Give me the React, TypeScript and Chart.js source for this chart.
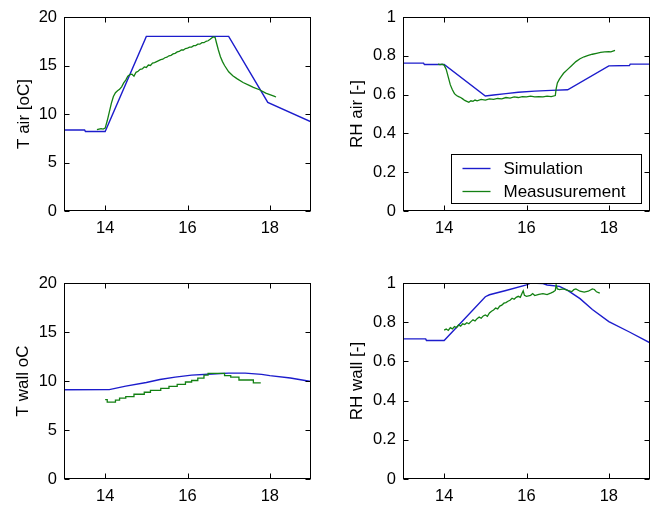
import React, { useEffect, useRef } from "react";
import { Chart, registerables } from "chart.js";
Chart.register(...registerables);

// ---------- data ----------
const X_TICKS = [14, 16, 18];
const T_TICKS = [0, 5, 10, 15, 20];
const RH_TICKS = [0, 0.2, 0.4, 0.6, 0.8, 1];
const LEGEND_LABELS = ["Simulation", "Measusurement"];

const tAirSim: [number, number][] = [
  [13, 8.35], [13.5, 8.35], [13.52, 8.2], [14.0, 8.2], [15.0, 18], [17.0, 18], [17.95, 11.2], [19, 9.2],
];
const tAirMeas: [number, number][] = [
  [13.8, 8.4], [13.85, 8.45], [13.9, 8.5], [13.95, 8.45], [14.0, 8.55], [14.05, 9.3], [14.1, 10.2],
  [14.15, 11.1], [14.2, 11.8], [14.25, 12.2], [14.3, 12.4], [14.35, 12.55], [14.4, 12.8], [14.45, 13.2],
  [14.5, 13.5], [14.55, 13.9], [14.6, 14.05], [14.65, 14.1], [14.7, 13.9], [14.75, 14.3], [14.8, 14.4],
  [14.85, 14.6], [14.9, 14.65], [14.95, 14.85], [15.0, 14.8], [15.05, 15.05], [15.1, 15.0], [15.15, 15.25],
  [15.2, 15.3], [15.25, 15.4], [15.3, 15.5], [15.35, 15.6], [15.4, 15.65], [15.45, 15.8], [15.5, 15.85],
  [15.55, 16.0], [15.6, 16.05], [15.65, 16.2], [15.7, 16.25], [15.75, 16.4], [15.8, 16.45], [15.85, 16.6],
  [15.9, 16.6], [15.95, 16.75], [16.0, 16.8], [16.05, 16.9], [16.1, 16.9], [16.15, 17.05], [16.2, 17.05],
  [16.25, 17.2], [16.3, 17.2], [16.35, 17.35], [16.4, 17.35], [16.45, 17.5], [16.5, 17.55], [16.55, 17.7],
  [16.62, 17.95], [16.67, 17.9], [16.7, 17.4], [16.75, 16.6], [16.8, 15.9], [16.85, 15.4], [16.9, 15.0],
  [17.0, 14.35], [17.1, 13.95], [17.2, 13.65], [17.35, 13.25], [17.5, 12.95], [17.6, 12.75], [17.75, 12.5],
  [17.9, 12.15], [18.0, 12.0], [18.1, 11.85], [18.15, 11.75],
];

const rhAirSim: [number, number][] = [
  [13, 0.762], [13.5, 0.762], [13.52, 0.755], [14, 0.755], [15, 0.593], [15.2, 0.598], [15.5, 0.605],
  [15.8, 0.612], [16.2, 0.618], [16.6, 0.622], [17, 0.625], [18, 0.748], [18.5, 0.75], [18.52, 0.757], [19, 0.757],
];
const rhAirMeas: [number, number][] = [
  [13.85, 0.757], [13.9, 0.755], [13.95, 0.757], [14.0, 0.752], [14.05, 0.73], [14.1, 0.69], [14.15, 0.65],
  [14.2, 0.625], [14.25, 0.605], [14.3, 0.595], [14.35, 0.59], [14.4, 0.585], [14.45, 0.578], [14.5, 0.57],
  [14.55, 0.565], [14.6, 0.56], [14.65, 0.568], [14.7, 0.565], [14.75, 0.572], [14.8, 0.568], [14.9, 0.575],
  [15.0, 0.572], [15.1, 0.578], [15.2, 0.575], [15.3, 0.58], [15.4, 0.578], [15.5, 0.585], [15.6, 0.582],
  [15.7, 0.588], [15.8, 0.585], [15.9, 0.59], [16.0, 0.588], [16.1, 0.592], [16.2, 0.588], [16.3, 0.59],
  [16.4, 0.588], [16.5, 0.592], [16.6, 0.59], [16.7, 0.595], [16.72, 0.63], [16.75, 0.66], [16.8, 0.68],
  [16.85, 0.695], [16.9, 0.71], [17.0, 0.73], [17.1, 0.75], [17.2, 0.77], [17.3, 0.785], [17.4, 0.795],
  [17.5, 0.802], [17.6, 0.808], [17.7, 0.813], [17.8, 0.818], [17.9, 0.82], [18.0, 0.822], [18.05, 0.82],
  [18.1, 0.824], [18.15, 0.828],
];

const tWallSim: [number, number][] = [
  [13, 9.1], [14.1, 9.12], [14.5, 9.48], [15, 9.85], [15.33, 10.15], [15.7, 10.4], [16.1, 10.6], [16.6, 10.72],
  [17, 10.8], [17.4, 10.8], [17.8, 10.68], [18, 10.55], [18.5, 10.3], [19, 9.95],
];
const tWallMeas: [number, number][] = [
  [14.0, 8.1], [14.05, 7.85], [14.25, 8.05], [14.35, 8.25], [14.5, 8.4], [14.7, 8.65], [14.95, 8.85],
  [15.1, 9.05], [15.35, 9.25], [15.55, 9.45], [15.75, 9.65], [15.95, 9.9], [16.1, 10.05], [16.25, 10.3],
  [16.4, 10.6], [16.5, 10.78], [16.9, 10.55], [17.05, 10.4], [17.25, 10.1], [17.6, 9.8], [17.78, 9.8],
];

const rhWallSim: [number, number][] = [
  [13, 0.715], [13.55, 0.715], [13.57, 0.707], [14, 0.707], [15, 0.93], [15.1, 0.94], [15.5, 0.962],
  [16, 0.99], [16.1, 1.0], [16.4, 0.997], [16.5, 0.99], [16.8, 0.983], [17, 0.962], [17.3, 0.92],
  [17.6, 0.865], [18, 0.803], [18.5, 0.75], [19, 0.695],
];
const rhWallMeas: [number, number][] = [
  [14.0, 0.76], [14.05, 0.765], [14.1, 0.758], [14.15, 0.772], [14.2, 0.766], [14.25, 0.778], [14.3, 0.772],
  [14.35, 0.786], [14.4, 0.78], [14.45, 0.792], [14.5, 0.788], [14.55, 0.797], [14.6, 0.792], [14.65, 0.803],
  [14.7, 0.812], [14.75, 0.806], [14.8, 0.818], [14.85, 0.826], [14.9, 0.82], [14.95, 0.832], [15.0, 0.837],
  [15.05, 0.83], [15.1, 0.847], [15.15, 0.856], [15.2, 0.862], [15.25, 0.872], [15.3, 0.868], [15.35, 0.882],
  [15.4, 0.887], [15.45, 0.897], [15.5, 0.9], [15.55, 0.907], [15.6, 0.912], [15.65, 0.922], [15.7, 0.917],
  [15.75, 0.927], [15.8, 0.932], [15.85, 0.927], [15.9, 0.952], [15.92, 0.96], [15.95, 0.937], [16.0, 0.932],
  [16.1, 0.937], [16.15, 0.946], [16.2, 0.936], [16.3, 0.942], [16.4, 0.946], [16.5, 0.941], [16.6, 0.95],
  [16.65, 0.955], [16.7, 0.962], [16.72, 0.99], [16.75, 0.97], [16.8, 0.966], [16.9, 0.97], [17.0, 0.962],
  [17.1, 0.956], [17.15, 0.966], [17.2, 0.97], [17.3, 0.958], [17.4, 0.954], [17.5, 0.958], [17.6, 0.97],
  [17.65, 0.967], [17.7, 0.955], [17.78, 0.948],
];

// ---------- layout / style ----------
const FONT = "'Liberation Sans', Arial, Helvetica, sans-serif";
const BLUE = "#1c1ccc";
const GREEN = "#138013";

type PanelDef = {
  x: number; y: number; w: number; h: number;
  area: { l: number; t: number; r: number; b: number };
  yMax: number; yTicks: number[]; title: string; titlePad: number;
  sim: [number, number][]; meas: [number, number][]; stepped?: boolean; legend?: boolean;
};

const PANELS: PanelDef[] = [
  { x: 0, y: 0, w: 327, h: 252, area: { l: 64, t: 17, r: 311, b: 211 }, yMax: 20, yTicks: T_TICKS,
    title: "T air [oC]", titlePad: 14, sim: tAirSim, meas: tAirMeas },
  { x: 327, y: 0, w: 327, h: 252, area: { l: 76, t: 17, r: 323, b: 211 }, yMax: 1, yTicks: RH_TICKS,
    title: "RH air [-]", titlePad: 20, sim: rhAirSim, meas: rhAirMeas, legend: true },
  { x: 0, y: 252, w: 327, h: 253, area: { l: 64, t: 31, r: 311, b: 227 }, yMax: 20, yTicks: T_TICKS,
    title: "T wall oC", titlePad: 13, sim: tWallSim, meas: tWallMeas, stepped: true },
  { x: 327, y: 252, w: 327, h: 253, area: { l: 76, t: 31, r: 323, b: 227 }, yMax: 1, yTicks: RH_TICKS,
    title: "RH wall [-]", titlePad: 20, sim: rhWallSim, meas: rhWallMeas },
];

const framePlugin = {
  id: "frame",
  afterDatasetsDraw(chart: any, _args: any, opts: any) {
    const { ctx, chartArea: a, scales } = chart;
    ctx.save();
    ctx.strokeStyle = "#000";
    ctx.lineWidth = 1;
    const L = Math.round(a.left) + 0.5;
    const R = Math.round(a.right) - 0.5;
    const T = Math.round(a.top) + 0.5;
    const B = Math.round(a.bottom) - 0.5;
    ctx.strokeRect(L, T, R - L, B - T);
    ctx.beginPath();
    const tl = 5;
    scales.x.ticks.forEach((t: any) => {
      const px = Math.round(scales.x.getPixelForValue(t.value)) + 0.5;
      ctx.moveTo(px, B); ctx.lineTo(px, B - tl);
      ctx.moveTo(px, T); ctx.lineTo(px, T + tl);
    });
    scales.y.ticks.forEach((t: any) => {
      const py = Math.round(scales.y.getPixelForValue(t.value)) + 0.5;
      ctx.moveTo(L, py); ctx.lineTo(L + tl, py);
      ctx.moveTo(R, py); ctx.lineTo(R - tl, py);
    });
    ctx.stroke();

    if (opts && opts.legend) {
      const bw = 190, bh = 49;
      const bx = Math.round(a.right) - 9 - bw + 0.5;
      const by = Math.round(a.bottom) - 8 - bh + 0.5;
      ctx.fillStyle = "#fff";
      ctx.fillRect(bx, by, bw, bh);
      ctx.strokeStyle = "#000";
      ctx.strokeRect(bx, by, bw, bh);
      ctx.font = `17px ${FONT}`;
      ctx.textBaseline = "middle";
      ctx.textAlign = "left";
      chart.data.datasets.forEach((ds: any, i: number) => {
        const ry = by + 14 + i * 23;
        ctx.strokeStyle = ds.borderColor;
        ctx.lineWidth = ds.borderWidth;
        ctx.beginPath();
        ctx.moveTo(bx + 11, ry);
        ctx.lineTo(bx + 39, ry);
        ctx.stroke();
        ctx.fillStyle = "#000";
        ctx.fillText(ds.label, bx + 52, ry + 1);
      });
    }
    ctx.restore();
  },
};

function toPts(arr: [number, number][]) {
  return arr.map(([x, y]) => ({ x, y }));
}

function Panel({ p }: { p: PanelDef }) {
  const ref = useRef<HTMLCanvasElement>(null);
  useEffect(() => {
    const chart = new Chart(ref.current as HTMLCanvasElement, {
      type: "line",
      data: {
        datasets: [
          { label: LEGEND_LABELS[0], data: toPts(p.sim), borderColor: BLUE, borderWidth: 1.4,
            pointRadius: 0, tension: 0, fill: false, order: 1 },
          { label: LEGEND_LABELS[1], data: toPts(p.meas), borderColor: GREEN, borderWidth: 1.3,
            pointRadius: 0, tension: 0, fill: false, order: 0, stepped: p.stepped ? "before" : false },
        ],
      } as any,
      options: {
        animation: false,
        responsive: false,
        maintainAspectRatio: false,
        layout: { padding: { left: 0, top: p.area.t, right: p.w - p.area.r, bottom: 0 } },
        plugins: {
          legend: { display: false },
          tooltip: { enabled: false },
          frame: { legend: !!p.legend },
        } as any,
        scales: {
          x: {
            type: "linear", min: 13, max: 19,
            grid: { display: false, drawTicks: false },
            border: { display: false },
            afterBuildTicks: (s: any) => { s.ticks = X_TICKS.map((v) => ({ value: v })); },
            afterFit: (s: any) => { s.height = p.h - p.area.b; },
            ticks: { color: "#000", font: { family: FONT, size: 16.5 }, padding: 8, maxRotation: 0,
              callback: (v: any) => String(v) },
          },
          y: {
            type: "linear", min: 0, max: p.yMax,
            grid: { display: false, drawTicks: false },
            border: { display: false },
            afterBuildTicks: (s: any) => { s.ticks = p.yTicks.map((v) => ({ value: v })); },
            afterFit: (s: any) => { s.width = p.area.l; },
            ticks: { color: "#000", font: { family: FONT, size: 16.5 }, padding: 7,
              callback: (v: any) => String(v) },
            title: { display: true, text: p.title, color: "#000", font: { family: FONT, size: 17 },
              padding: { top: p.titlePad, bottom: 0 } },
          },
        },
      } as any,
      plugins: [framePlugin],
    });
    return () => chart.destroy();
  }, []);
  return (
    <canvas
      ref={ref}
      width={p.w}
      height={p.h}
      style={{ position: "absolute", left: p.x, top: p.y, width: p.w, height: p.h }}
    />
  );
}

export default function App() {
  return (
    <div style={{ position: "absolute", left: 0, top: 0, width: 654, height: 505, background: "#fff" }}>
      {PANELS.map((p, i) => (
        <Panel key={i} p={p} />
      ))}
    </div>
  );
}
